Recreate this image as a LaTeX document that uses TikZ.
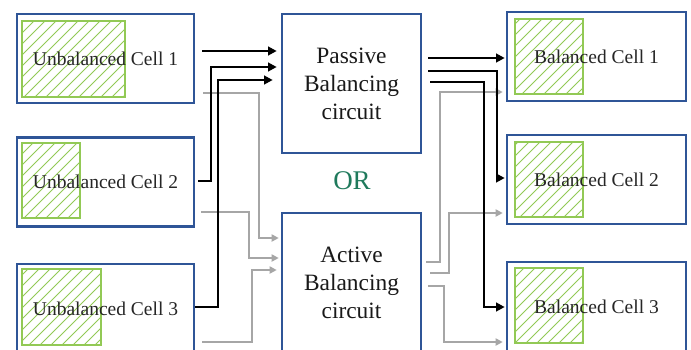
\documentclass[tikz,border=0pt]{standalone}
\usepackage{fontspec}
\setmainfont{Liberation Serif}
\usetikzlibrary{arrows.meta}
\definecolor{boxblue}{HTML}{2F5597}
\definecolor{hatchgreen}{HTML}{92C955}
\definecolor{orgreen}{HTML}{1F7A5C}
\definecolor{arrgray}{HTML}{A6A6A6}
\newcommand\hatchsq[4]{%
  \begin{scope}
    \clip (#1,#2) rectangle (#3,#4);
    \foreach \c in {0,11,...,940} \draw[hatchline] (\c,0) -- (0,\c);
  \end{scope}
  \draw[hatchline,line width=1.1pt] (#1,#2) rectangle (#3,#4);}
\begin{document}
\begin{tikzpicture}[x=1pt,y=-1pt,
  cellbox/.style={draw=boxblue,line width=2.6pt,minimum width=177pt,minimum height=89pt,inner sep=0pt,
    font=\fontsize{19.5}{23}\selectfont,text=black!85},
  circbox/.style={draw=boxblue,line width=2.6pt,minimum width=139pt,minimum height=139pt,inner sep=0pt,
    align=center,font=\fontsize{23.4}{28}\selectfont,text=black!90},
  hatchline/.style={draw=hatchgreen,line width=0.9pt},
  blk/.style={draw=black,line width=2.6pt,-{Triangle[length=8.5pt,width=8.5pt]}},
  gry/.style={draw=arrgray,line width=2.3pt,-{Triangle[length=7pt,width=7pt]}}]
\useasboundingbox[fill=white] (0,0) rectangle (691,349);
% hatched squares
\hatchsq{22}{21}{125}{97}
\hatchsq{22}{143}{80}{218}
\hatchsq{22}{269}{101}{345}
\hatchsq{515}{19}{583}{94}
\hatchsq{515}{142}{583}{217}
\hatchsq{515}{268}{583}{343}
% boxes
\node[cellbox] (u1) at (105.5,58.5) {Unbalanced Cell 1};
\node[cellbox] (u2) at (105.5,182) {Unbalanced Cell 2};
\node[cellbox] (u3) at (105.5,308.5) {Unbalanced Cell 3};
\node[circbox] (p) at (351.5,83.5) {Passive\\Balancing\\circuit};
\node[circbox] (a) at (351.5,282.5) {Active\\Balancing\\circuit};
\node[cellbox,minimum width=179pt] (b1) at (596.5,56.5) {Balanced Cell 1};
\node[cellbox,minimum width=179pt] (b2) at (596.5,179.5) {Balanced Cell 2};
\node[cellbox,minimum width=179pt] (b3) at (596.5,306.5) {Balanced Cell 3};
\node[text=orgreen,font=\fontsize{27}{30}\selectfont] (or) at (352,181) {OR};
% gray connectors (left)
\draw[gry,shorten <=8pt,shorten >=2pt] (u1.east |- 0,93) -| (259,238) -- (a.west |- 0,238);
\draw[gry,shorten <=6pt,shorten >=2pt] (u2.east |- 0,212) -| (249,258) -- (a.west |- 0,258);
\draw[gry,shorten <=7pt,shorten >=4pt] (u3.east |- 0,342) -| (252,270) -- (a.west |- 0,270);
% gray connectors (right)
\draw[gry,shorten <=4pt,shorten >=3pt] (a.east |- 0,262) -| (440,92) -- (b1.west |- 0,92);
\draw[gry,shorten <=8pt,shorten >=3pt] (a.east |- 0,273) -| (449,213) -- (b2.west |- 0,213);
\draw[gry,shorten <=6pt,shorten >=3pt] (a.east |- 0,286) -| (444,342) -- (b3.west |- 0,342);
% black connectors (left)
\draw[blk,shorten <=7pt,shorten >=4pt] (u1.east |- 0,51) -- (p.west |- 0,51);
\draw[blk,shorten <=3pt,shorten >=4pt] (u2.east |- 0,181) -| (211,67) -- (p.west |- 0,67);
\draw[blk,shorten <=0pt,shorten >=8pt] (u3.east |- 0,307) -| (218,80) -- (p.west |- 0,80);
% black connectors (right)
\draw[blk,shorten <=6pt,shorten >=1pt] (p.east |- 0,58) -- (b1.west |- 0,58);
\draw[blk,shorten <=6pt,shorten >=1pt] (p.east |- 0,71) -| (497,178) -- (b2.west |- 0,178);
\draw[blk,shorten <=8pt,shorten >=1pt] (p.east |- 0,82) -| (484,307) -- (b3.west |- 0,307);
\end{tikzpicture}
\end{document}
